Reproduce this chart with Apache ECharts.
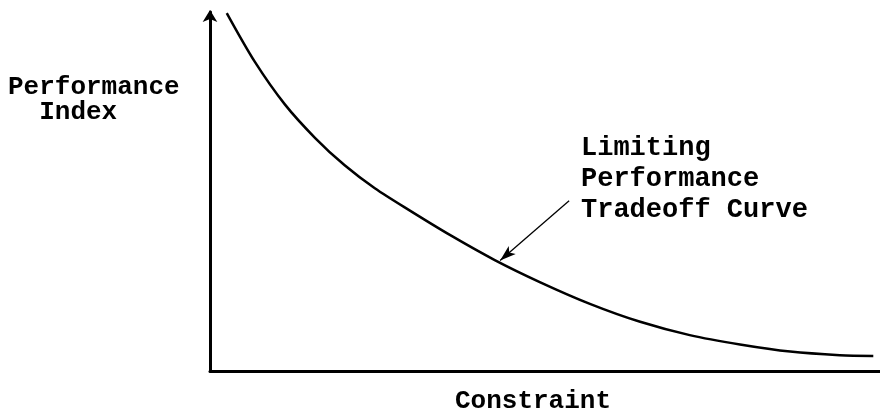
<!DOCTYPE html>
<html><head><meta charset="utf-8">
<script src="https://cdn.jsdelivr.net/npm/echarts@6/dist/echarts.min.js"></script>
<style>html,body{margin:0;padding:0;background:#fff}#c{width:880px;height:415px}</style>
</head><body><div id="c"></div>
<script>
// Curve samples (x = constraint, y = performance index)
const curveX = [2.5, 6.7, 11.2, 15.7, 20.1, 24.6, 29.9, 35.8, 42.5, 49.3, 56.7, 64.2, 71.6, 79.1, 86.6, 94.0, 99.0];
const curveY = [99.7, 86.1, 74.2, 64.9, 57.3, 50.9, 44.6, 37.9, 30.9, 24.7, 18.7, 13.7, 10.0, 7.4, 5.4, 4.4, 4.2];
// Annotation arrow (tail -> head), in data units
const arrowFrom = [53.6, 47.4];
const arrowTo = [43.3, 30.8];
const yLabel = ['Performance', '  Index'];
const xLabel = 'Constraint';
const noteLines = ['Limiting', 'Performance', 'Tradeoff Curve'];

const FONT = '"Liberation Mono", monospace';
const chart = echarts.init(document.getElementById('c'), null, {renderer: 'canvas'});
chart.setOption({
  animation: false,
  backgroundColor: '#fff',
  grid: {left: 210, right: 0, top: 12, bottom: 44},
  xAxis: {
    type: 'value', min: 0, max: 100,
    axisLine: {show: true, lineStyle: {color: '#000', width: 3}},
    axisTick: {show: false}, axisLabel: {show: false}, splitLine: {show: false}
  },
  yAxis: {
    type: 'value', min: 0, max: 100,
    axisLine: {show: true, symbol: ['none', 'arrow'], symbolSize: [11, 12], symbolOffset: [0, 2],
      lineStyle: {color: '#000', width: 3}},
    axisTick: {show: false}, axisLabel: {show: false}, splitLine: {show: false}
  },
  series: [{
    type: 'line',
    data: curveX.map((x, i) => [x, curveY[i]]),
    smooth: 0.3,
    showSymbol: false,
    lineStyle: {color: '#000', width: 2.5},
    markLine: {
      silent: true,
      symbol: ['none', 'arrow'],
      symbolSize: [8, 16],
      label: {show: false},
      lineStyle: {color: '#000', width: 1.3, type: 'solid'},
      data: [[{coord: arrowFrom}, {coord: arrowTo}]]
    }
  }],
  graphic: [
    {type: 'text', position: [8, 100], style: {text: yLabel.join('\n'), font: 'bold 26px ' + FONT, fill: '#000', align: 'left', verticalAlign: 'middle', lineHeight: 25}},
    {type: 'text', position: [533, 401], style: {text: xLabel, font: 'bold 26px ' + FONT, fill: '#000', align: 'center', verticalAlign: 'middle'}},
    {type: 'text', position: [581, 179], style: {text: noteLines.join('\n'), font: 'bold 27px ' + FONT, fill: '#000', align: 'left', verticalAlign: 'middle', lineHeight: 31}}
  ]
});
</script></body></html>
